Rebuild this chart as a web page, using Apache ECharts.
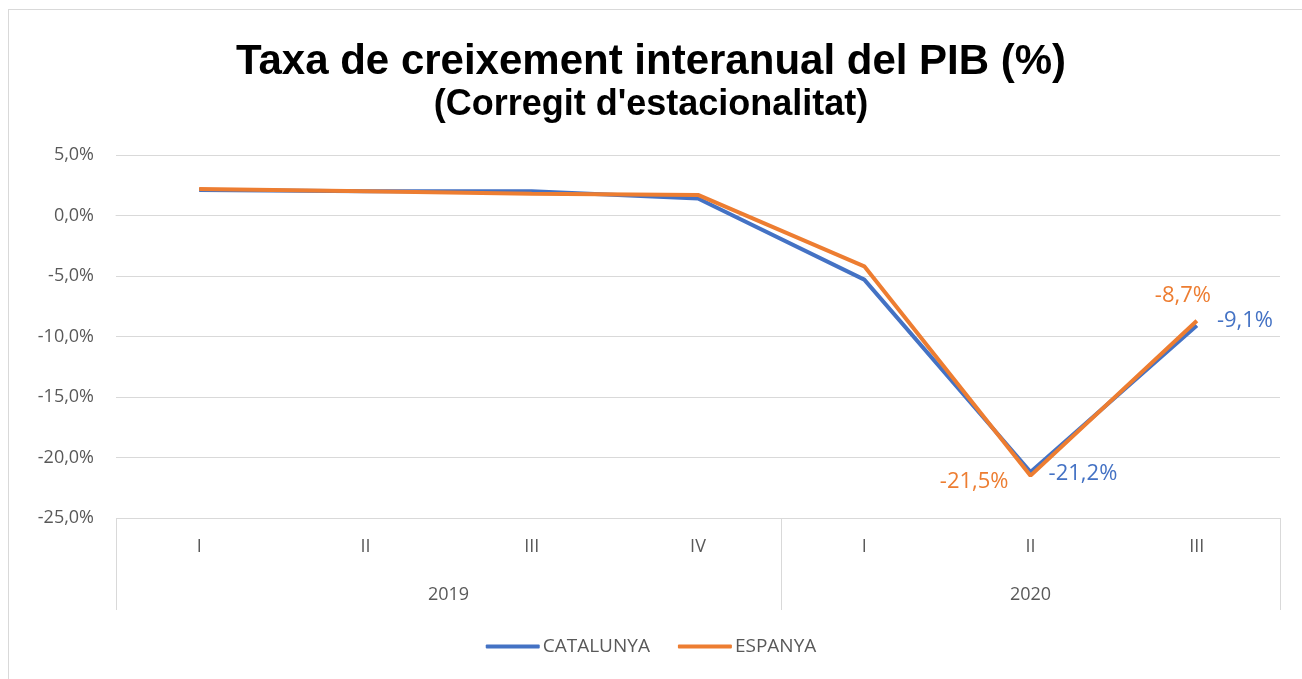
<!DOCTYPE html>
<html>
<head>
<meta charset="utf-8">
<script src="https://cdn.jsdelivr.net/npm/echarts@6/dist/echarts.min.js"></script>
<style>
  body { margin: 0; background: #fff; }
  #chart { width: 1302px; height: 679px; }
  #frame { position: absolute; left: 8px; top: 9px; width: 1300px; height: 680px; border: 1px solid #d9d9d9; pointer-events: none; }
</style>
</head>
<body>
<div id="chart"></div>
<div id="frame"></div>
<script>
// quarters and year groups
var quarters = ['I', 'II', 'III', 'IV', 'I', 'II', 'III'];
var years = ['2019', '2020'];
var quartersPerYear = [4, 3];

// GDP year-on-year growth (%)
var catalunya = [2.1, 2.0, 2.0, 1.4, -5.3, -21.2, -9.1];
var espanya = [2.2, 2.0, 1.8, 1.7, -4.2, -21.5, -8.7];

// which points get a value label
var labelIdx = [5, 6];

var fmt = function (v) {
    return v.toFixed(1).replace('.', ',') + '%';
};

// year boundaries and centres on a 0..7 value scale
var yearEdges = [0];
var yearCentres = [];
quartersPerYear.forEach(function (n) {
    var start = yearEdges[yearEdges.length - 1];
    yearCentres.push(start + n / 2);
    yearEdges.push(start + n);
});

function buildData(values, labelPos) {
    return values.map(function (v, i) {
        var k = labelIdx.indexOf(i);
        if (k < 0) return v;
        return { value: v, label: Object.assign({ show: true }, labelPos[k]) };
    });
}

var chart = echarts.init(document.getElementById('chart'));

var option = {
    animation: false,
    textStyle: { fontFamily: 'Open Sans' },
    title: {
        text: 'Taxa de creixement interanual del PIB (%)',
        subtext: "(Corregit d'estacionalitat)",
        left: 'center',
        top: 36,
        itemGap: 4,
        textStyle: { fontFamily: 'Liberation Sans', fontWeight: 'bold', fontSize: 42, color: '#000' },
        subtextStyle: { fontFamily: 'Liberation Sans', fontWeight: 'bold', fontSize: 36, color: '#000' }
    },
    legend: {
        bottom: 18,
        left: 'center',
        icon: 'roundRect',
        itemWidth: 54,
        itemHeight: 4,
        itemGap: 28,
        textStyle: { fontSize: 19, color: '#595959', fontFamily: 'Open Sans', padding: [0, 0, 0, -2] },
        data: ['CATALUNYA', 'ESPANYA']
    },
    grid: { left: 116, right: 22, top: 155, bottom: 161 },
    xAxis: [
        {
            type: 'category',
            data: quarters,
            boundaryGap: true,
            axisLine: { show: true, lineStyle: { color: '#d9d9d9', width: 1 } },
            axisTick: { show: false },
            axisLabel: { margin: 20, fontSize: 18, color: '#595959' }
        },
        {
            type: 'value',
            min: 0,
            max: yearEdges[yearEdges.length - 1],
            position: 'bottom',
            splitLine: { show: false },
            axisLine: { show: false },
            axisTick: {
                show: true,
                customValues: yearEdges,
                length: 92,
                lineStyle: { color: '#d9d9d9', width: 1 }
            },
            axisLabel: {
                customValues: yearCentres,
                margin: 68,
                fontSize: 18,
                color: '#595959',
                formatter: function (v) {
                    var k = yearCentres.indexOf(v);
                    return k >= 0 ? years[k] : '';
                }
            }
        }
    ],
    yAxis: {
        type: 'value',
        min: -25,
        max: 5,
        interval: 5,
        axisLine: { show: false },
        axisTick: { show: false },
        axisLabel: { margin: 22, fontSize: 18, color: '#595959', formatter: fmt },
        splitLine: { lineStyle: { color: '#d9d9d9', width: 1 } }
    },
    series: [
        {
            name: 'CATALUNYA',
            type: 'line',
            xAxisIndex: 0,
            symbol: 'circle',
            symbolSize: 0.1,
            lineStyle: { width: 4, color: '#4472C4' },
            itemStyle: { color: '#4472C4' },
            label: { fontSize: 22, color: '#4472C4', formatter: function (p) { return fmt(p.value); } },
            data: buildData(catalunya, [
                { position: 'right', distance: 18, offset: [0, 2] },
                { position: 'right', distance: 20, offset: [0, -5] }
            ])
        },
        {
            name: 'ESPANYA',
            type: 'line',
            xAxisIndex: 0,
            symbol: 'circle',
            symbolSize: 0.1,
            lineStyle: { width: 4, color: '#ED7D31' },
            itemStyle: { color: '#ED7D31' },
            label: { fontSize: 22, color: '#ED7D31', formatter: function (p) { return fmt(p.value); } },
            data: buildData(espanya, [
                { position: 'left', distance: 22, offset: [0, 6] },
                { position: 'top', distance: 14, offset: [-14, 0] }
            ])
        }
    ]
};

chart.setOption(option);
</script>
</body>
</html>
